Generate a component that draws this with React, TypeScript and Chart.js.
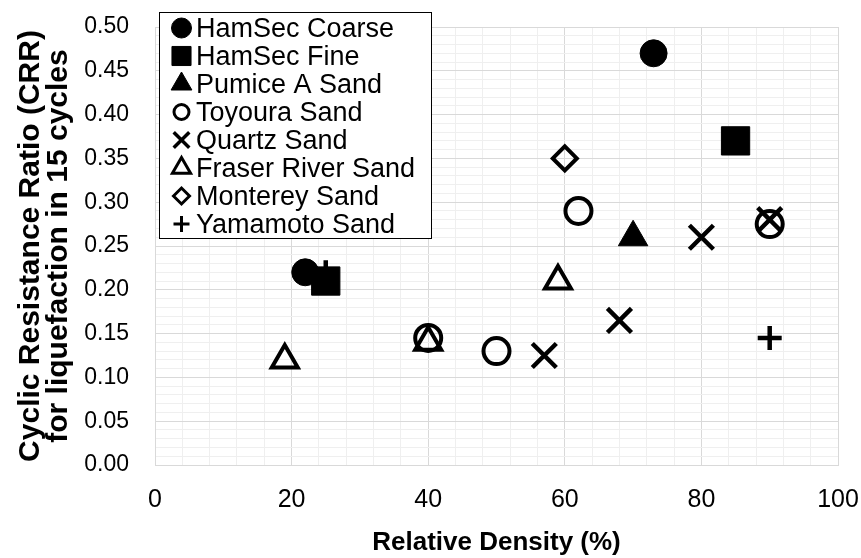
import React, { useEffect, useRef } from 'react';
import { Chart, registerables } from 'chart.js';
import { drawPoint } from 'chart.js/helpers';

Chart.register(...registerables);

const SERIES_NAMES = [
  'HamSec Coarse',
  'HamSec Fine',
  'Pumice A Sand',
  'Toyoura Sand',
  'Quartz Sand',
  'Fraser River Sand',
  'Monterey Sand',
  'Yamamoto Sand',
];

// Relative density (%) values per series
const HAMSEC_COARSE_X = [22, 73];
const HAMSEC_COARSE_Y = [0.22, 0.47];
const HAMSEC_FINE_X = [25, 85];
const HAMSEC_FINE_Y = [0.21, 0.37];
const PUMICE_X = [70];
const PUMICE_Y = [0.26];
const TOYOURA_X = [40, 50, 62, 90];
const TOYOURA_Y = [0.145, 0.13, 0.29, 0.275];
const QUARTZ_X = [57, 68, 80, 90];
const QUARTZ_Y = [0.125, 0.165, 0.26, 0.28];
const FRASER_X = [19, 40, 59];
const FRASER_Y = [0.12, 0.14, 0.21];
const MONTEREY_X = [60];
const MONTEREY_Y = [0.35];
const YAMAMOTO_X = [25, 90];
const YAMAMOTO_Y = [0.22, 0.145];

const SERIES_X = [HAMSEC_COARSE_X, HAMSEC_FINE_X, PUMICE_X, TOYOURA_X, QUARTZ_X, FRASER_X, MONTEREY_X, YAMAMOTO_X];
const SERIES_Y = [HAMSEC_COARSE_Y, HAMSEC_FINE_Y, PUMICE_Y, TOYOURA_Y, QUARTZ_Y, FRASER_Y, MONTEREY_Y, YAMAMOTO_Y];

const X_TITLE = 'Relative Density (%)';
const Y_TITLE = ['Cyclic Resistance Ratio (CRR)', 'for liquefaction in 15 cycles'];

// marker styles (chart / legend)
const STYLES = [
  { style: 'circle', filled: true, r: 13.5, bw: 1, lr: 10, lbw: 1 },
  { style: 'rect', filled: true, r: 20, bw: 1, lr: 13.5, lbw: 1 },
  { style: 'triangle', filled: true, r: 17, bw: 1, lr: 12, lbw: 1 },
  { style: 'circle', filled: false, r: 13, bw: 4, lr: 7.5, lbw: 3 },
  { style: 'crossRot', filled: false, r: 17, bw: 4.5, lr: 11, lbw: 3.5 },
  { style: 'triangle', filled: false, r: 15, bw: 4, lr: 10.5, lbw: 3 },
  { style: 'rectRot', filled: false, r: 12, bw: 4, lr: 8, lbw: 3 },
  { style: 'cross', filled: false, r: 12, bw: 4.5, lr: 8, lbw: 3 },
];

const FONT = '"Liberation Sans", Arial, sans-serif';

const legendPlugin = {
  id: 'boxLegend',
  afterDraw(chart: any) {
    const ctx: CanvasRenderingContext2D = chart.ctx;
    ctx.save();
    const x0 = 159.5, y0 = 12.5, w = 272, h = 226;
    ctx.fillStyle = '#ffffff';
    ctx.fillRect(x0, y0, w, h);
    ctx.strokeStyle = '#000000';
    ctx.lineWidth = 1;
    ctx.strokeRect(x0, y0, w, h);
    ctx.font = '27px ' + FONT;
    ctx.textBaseline = 'alphabetic';
    ctx.textAlign = 'left';
    chart.data.datasets.forEach((ds: any, i: number) => {
      const st = STYLES[i];
      const base = 37 + i * 28;
      const cy = base - 9;
      ctx.save();
      ctx.fillStyle = st.filled ? '#000' : '#fff';
      ctx.strokeStyle = '#000';
      ctx.lineWidth = st.lbw;
      drawPoint(ctx, { pointStyle: st.style as any, rotation: 0, radius: st.lr, borderWidth: st.lbw }, 181.5, cy);
      ctx.restore();
      ctx.fillStyle = '#000';
      ctx.fillText(ds.label, 196, base);
    });
    ctx.restore();
  },
};

const zeroPad = (s: any) => {
  s.paddingTop = 0;
  s.paddingBottom = 0;
  s.paddingLeft = 0;
  s.paddingRight = 0;
};

export default function App() {
  const ref = useRef<HTMLCanvasElement>(null);
  useEffect(() => {
    document.body.style.margin = '0';
    const datasets = SERIES_NAMES.map((name, i) => {
      const st = STYLES[i];
      return {
        label: name,
        data: SERIES_X[i].map((x, j) => ({ x, y: SERIES_Y[i][j] })),
        pointStyle: st.style,
        pointRadius: st.r,
        pointHoverRadius: st.r,
        pointBorderWidth: st.bw,
        pointBackgroundColor: st.filled ? '#000' : 'rgba(0,0,0,0)',
        pointBorderColor: '#000',
        showLine: false,
      };
    });
    const chart = new Chart(ref.current!, {
      type: 'scatter',
      data: { datasets } as any,
      options: {
        responsive: false,
        animation: false,
        layout: { padding: { left: 0, top: 27, right: 23, bottom: 0 } },
        plugins: { legend: { display: false }, tooltip: { enabled: false } },
        scales: {
          x: {
            type: 'linear',
            min: 0,
            max: 100,
            afterFit: (s: any) => { s.height = 93; zeroPad(s); },
            border: { color: '#d9d9d9' },
            grid: {
              drawTicks: false,
              color: (c: any) => (c.tick && Math.round(c.tick.value) % 20 === 0 ? '#d9d9d9' : '#efefef'),
            },
            ticks: {
              stepSize: 4,
              autoSkip: false,
              maxRotation: 0,
              padding: 20,
              color: '#000',
              font: { family: FONT, size: 25 },
              callback: (v: any) => (Math.round(v) % 20 === 0 ? String(Math.round(v)) : ''),
            },
            title: {
              display: true,
              text: X_TITLE,
              color: '#000',
              font: { family: FONT, size: 26, weight: 'bold' },
              padding: { top: 0, bottom: 0 },
            },
          },
          y: {
            type: 'linear',
            min: 0,
            max: 0.5,
            afterFit: (s: any) => { s.width = 155; zeroPad(s); },
            border: { color: '#d9d9d9' },
            grid: {
              drawTicks: false,
              color: (c: any) => (c.tick && Math.round(c.tick.value * 100) % 5 === 0 ? '#d9d9d9' : '#efefef'),
            },
            ticks: {
              stepSize: 0.01,
              autoSkip: false,
              padding: 26,
              color: '#000',
              font: { family: FONT, size: 23 },
              callback: (v: any) => {
                const n = Math.round(v * 100);
                return n % 5 === 0 ? (n / 100).toFixed(2) : '';
              },
            },
            title: {
              display: true,
              text: Y_TITLE,
              color: '#000',
              font: { family: FONT, size: 30, weight: 'bold', lineHeight: 0.95 },
              padding: { top: 16, bottom: 0 },
            },
          },
        },
      },
      plugins: [legendPlugin],
    } as any);
    return () => chart.destroy();
  }, []);
  return (
    <div style={{ position: 'absolute', left: 0, top: 0, width: 861, height: 558 }}>
      <canvas ref={ref} width={861} height={558} style={{ width: 861, height: 558 }} />
    </div>
  );
}
